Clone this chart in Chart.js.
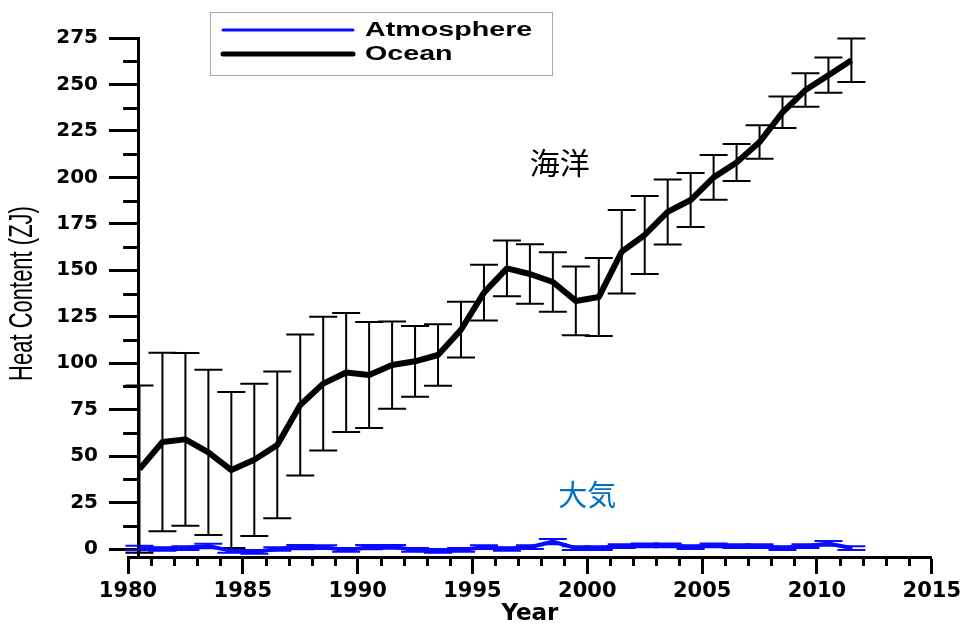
<!DOCTYPE html>
<html>
<head>
<meta charset="utf-8">
<script src="https://cdn.jsdelivr.net/npm/chart.js@4/dist/chart.umd.min.js"></script>
<style>
  html, body { margin: 0; padding: 0; background: #ffffff; }
  canvas { display: block; }
</style>
</head>
<body>
<canvas id="chart" width="966" height="628"></canvas>
<script>
// Annual values, plotted at mid-year
const years = [1980, 1981, 1982, 1983, 1984, 1985, 1986, 1987, 1988, 1989,
               1990, 1991, 1992, 1993, 1994, 1995, 1996, 1997, 1998, 1999,
               2000, 2001, 2002, 2003, 2004, 2005, 2006, 2007, 2008, 2009,
               2010, 2011];

// Ocean heat content (ZJ) and its uncertainty
const ocean = [43, 57.6, 59, 52, 42.5, 48, 56, 77.5, 89, 95,
               93.6, 99, 101, 104.4, 118, 138, 151, 148, 143.7, 133.5,
               135.6, 160, 169, 181.4, 187.8, 200, 208, 219, 235, 247,
               255, 263];
const oceanErr = [45, 48, 46.5, 44.5, 42, 41, 39.5, 38, 36, 32,
                  28.5, 23.5, 19, 16.5, 15, 15, 15, 16, 16, 18.5,
                  21, 22.5, 21, 17.5, 14.5, 12, 10, 9, 8.5, 9,
                  9.5, 11.7];

// Atmosphere heat content (ZJ) and its uncertainty
const atmosphere = [0.5, 0, 0.5, 1.6, -1, -1.6, 0, 1, 1, -0.5,
                    1, 1.2, -0.5, -1, -0.5, 1, 0, 1, 4, 0.5,
                    0.5, 1.5, 2, 2, 1, 2, 1.5, 1.5, 0.5, 1.5,
                    3, 0.5];
const atmosphereErr = [1.2, 1.0, 1.0, 1.2, 1.0, 1.0, 1.0, 1.1, 1.0, 1.0,
                       1.1, 1.0, 1.0, 1.0, 1.0, 1.0, 1.0, 1.0, 1.4, 1.0,
                       1.0, 1.0, 1.0, 1.0, 1.0, 1.0, 1.0, 1.0, 1.0, 1.0,
                       1.3, 1.0];

const xTickLabels = [1980, 1985, 1990, 1995, 2000, 2005, 2010, 2015];
const yTickLabels = [0, 25, 50, 75, 100, 125, 150, 175, 200, 225, 250, 275];

const seriesNames = ['Atmosphere', 'Ocean'];
const notes = [
  { text: '海洋', year: 1998.8, value: 208, color: '#000000', size: 30 },
  { text: '大気', year: 2000.0, value: 29, color: '#0070C0', size: 29 }
];

const BLUE = '#0a0aff';
const Y_AXIS_AT = 1980.44;
const Y_MIN = -4.3;
const Y_MAX = 275;

const toPoints = vals => vals.map((v, i) => ({ x: years[i] + 0.5, y: v }));

// Vertical error bars with caps, drawn under the lines
const errorBars = {
  id: 'errorBars',
  beforeDatasetsDraw(chart) {
    const { ctx, scales: { x, y } } = chart;
    chart.data.datasets.forEach(ds => {
      if (!ds.errors) return;
      ctx.save();
      ctx.strokeStyle = ds.errorColor;
      ctx.lineWidth = ds.errorWidth;
      ds.data.forEach((p, i) => {
        const e = ds.errors[i];
        const px = x.getPixelForValue(p.x);
        const hi = y.getPixelForValue(p.y + e);
        const lo = y.getPixelForValue(p.y - e);
        const cap = 14;
        ctx.beginPath();
        ctx.moveTo(px, hi); ctx.lineTo(px, lo);
        ctx.moveTo(px - cap, hi); ctx.lineTo(px + cap, hi);
        ctx.moveTo(px - cap, lo); ctx.lineTo(px + cap, lo);
        ctx.stroke();
      });
      ctx.restore();
    });
  }
};

// Minor ticks, axis title, legend box and text notes
const decorations = {
  id: 'decorations',
  afterDraw(chart) {
    const { ctx, chartArea, scales: { x, y } } = chart;
    ctx.save();
    ctx.strokeStyle = '#000';
    ctx.lineWidth = 3;
    // minor year ticks
    for (let yr = 1980; yr <= 2015; yr++) {
      if (yr % 5 === 0) continue;
      const px = Math.round(x.getPixelForValue(yr)) + 0.5;
      ctx.beginPath();
      ctx.moveTo(px, chartArea.bottom);
      ctx.lineTo(px, chartArea.bottom + 9);
      ctx.stroke();
    }
    // minor value ticks
    const ax = x.getPixelForValue(Y_AXIS_AT);
    for (let v = 12.5; v < 275; v += 25) {
      const py = Math.round(y.getPixelForValue(v)) + 0.5;
      ctx.beginPath();
      ctx.moveTo(ax - 15, py);
      ctx.lineTo(ax, py);
      ctx.stroke();
    }

    // value axis title
    ctx.save();
    const midY = (y.getPixelForValue(0) + y.getPixelForValue(275)) / 2;
    ctx.translate(23, midY);
    ctx.scale(1.47, 1);
    ctx.rotate(-Math.PI / 2);
    ctx.fillStyle = '#000';
    ctx.font = '22px "Liberation Sans", Arial, sans-serif';
    ctx.textAlign = 'center';
    ctx.textBaseline = 'middle';
    ctx.fillText('Heat Content (ZJ)', 0, 0);
    ctx.restore();

    // legend
    ctx.strokeStyle = '#a8a8a8';
    ctx.lineWidth = 1;
    ctx.strokeRect(210.5, 12.5, 342, 63);
    const rows = [30, 54];
    chart.data.datasets.forEach((ds, i) => {
      ctx.strokeStyle = ds.borderColor;
      ctx.lineWidth = ds.borderWidth - 1;
      ctx.lineCap = 'round';
      ctx.beginPath();
      ctx.moveTo(223, rows[i]);
      ctx.lineTo(353, rows[i]);
      ctx.stroke();
      ctx.save();
      ctx.translate(365, rows[i]);
      ctx.scale(1.47, 1);
      ctx.fillStyle = '#000';
      ctx.font = 'bold 19.5px "Liberation Sans", Arial, sans-serif';
      ctx.textAlign = 'left';
      ctx.textBaseline = 'middle';
      ctx.fillText(ds.label, 0, 1);
      ctx.restore();
    });

    // series notes
    notes.forEach(n => {
      ctx.fillStyle = n.color;
      ctx.font = n.size + 'px "Noto Sans CJK JP", sans-serif';
      ctx.textAlign = 'center';
      ctx.textBaseline = 'middle';
      ctx.fillText(n.text, x.getPixelForValue(n.year), y.getPixelForValue(n.value));
    });
    ctx.restore();
  }
};

new Chart(document.getElementById('chart'), {
  type: 'line',
  data: {
    datasets: [
      {
        label: seriesNames[0],
        data: toPoints(atmosphere),
        errors: atmosphereErr,
        errorColor: BLUE,
        errorWidth: 2,
        borderColor: BLUE,
        borderWidth: 4,
        pointRadius: 0,
        tension: 0,
        order: 1
      },
      {
        label: seriesNames[1],
        data: toPoints(ocean),
        errors: oceanErr,
        errorColor: '#000000',
        errorWidth: 2,
        borderColor: '#000000',
        borderWidth: 6,
        borderJoinStyle: 'round',
        pointRadius: 0,
        tension: 0,
        order: 0
      }
    ]
  },
  options: {
    responsive: false,
    animation: false,
    devicePixelRatio: 1,
    layout: { padding: { left: 0, right: 34, top: 38, bottom: 0 } },
    plugins: { legend: { display: false }, tooltip: { enabled: false } },
    scales: {
      x: {
        type: 'linear',
        position: 'bottom',
        min: 1980,
        max: 2015,
        afterBuildTicks: s => { s.ticks = xTickLabels.map(v => ({ value: v })); },
        afterFit: s => { s.height = 71; },
        ticks: {
          color: '#000',
          padding: 5,
          maxRotation: 0,
          autoSkip: false,
          font: { family: '"DejaVu Sans", sans-serif', weight: 'bold', size: 21 },
          callback: v => String(v)
        },
        grid: { drawOnChartArea: false, drawTicks: true, tickLength: 17, tickWidth: 3, tickColor: '#000' },
        border: { display: true, color: '#000', width: 3 },
        title: {
          display: true,
          text: 'Year',
          color: '#000',
          padding: { top: 0, bottom: 0 },
          font: { family: '"DejaVu Sans", sans-serif', weight: 'bold', size: 23 }
        }
      },
      // value labels, left of the plot
      y: {
        type: 'linear',
        position: 'left',
        min: Y_MIN,
        max: Y_MAX,
        afterBuildTicks: s => { s.ticks = yTickLabels.map(v => ({ value: v })); },
        afterFit: s => { s.width = 128; s.paddingTop = 0; s.paddingBottom = 0; },
        ticks: {
          color: '#000',
          padding: 30,
          autoSkip: false,
          font: { family: '"DejaVu Sans", sans-serif', weight: 'bold', size: 20 },
          callback: v => String(v)
        },
        grid: { display: false, drawTicks: false },
        border: { display: false }
      },
      // value axis line with its major ticks, crossing the year axis just after 1980
      yLine: {
        type: 'linear',
        position: { x: Y_AXIS_AT },
        min: Y_MIN,
        max: Y_MAX,
        afterBuildTicks: s => { s.ticks = yTickLabels.map(v => ({ value: v })); },
        afterFit: s => { s.paddingTop = 0; s.paddingBottom = 0; },
        ticks: { display: false },
        grid: { drawOnChartArea: false, drawTicks: true, tickLength: 28, tickWidth: 3, tickColor: '#000' },
        border: { display: true, color: '#000', width: 3 }
      }
    }
  },
  plugins: [errorBars, decorations]
});
</script>
</body>
</html>
